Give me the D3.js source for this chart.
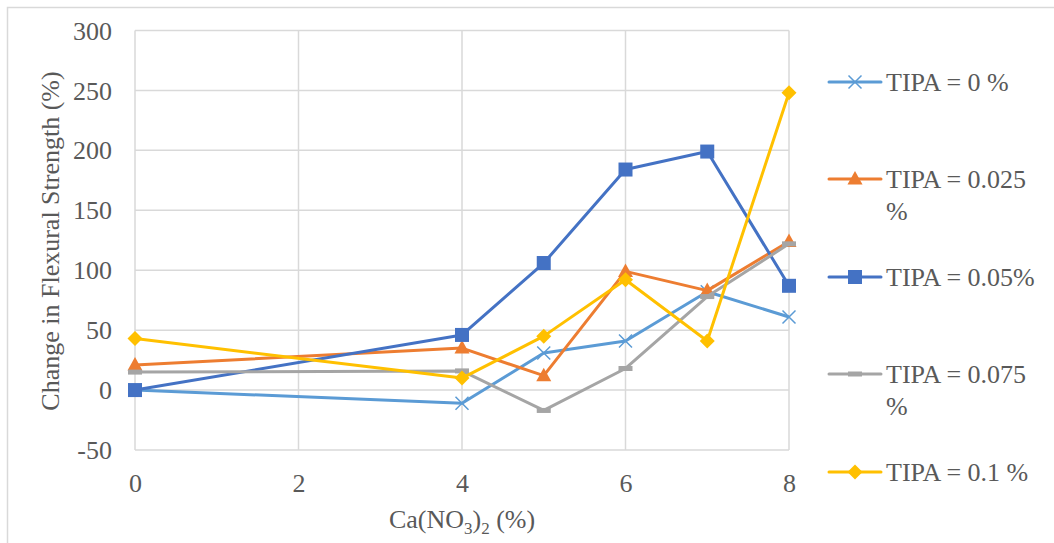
<!DOCTYPE html>
<html>
<head>
<meta charset="utf-8">
<script src="https://cdn.jsdelivr.net/npm/d3@7/dist/d3.min.js"></script>
<style>
  body { margin: 0; background: #fff; }
  svg { display: block; }
  svg text { font-family: "Liberation Serif", "Times New Roman", serif; }
</style>
</head>
<body>
<svg id="chart" width="1054" height="543"></svg>
<script>
// Ca(NO3)2 dosage (%) on the x axis
const dosage = [0, 4, 5, 6, 7, 8];

// Change in flexural strength (%) for each TIPA dosage
const tipa0    = [0, -11, 31, 41, 82, 61];
const tipa0025 = [21, 35, 12, 99, 83, 124];
const tipa005  = [0, 46, 106, 184, 199, 87];
const tipa0075 = [15, 16, -17, 18, 78, 122];
const tipa01   = [43, 10, 45, 92, 41, 248];

const seriesNames = ["TIPA = 0 %", "TIPA = 0.025 %", "TIPA = 0.05%", "TIPA = 0.075 %", "TIPA = 0.1 %"];
const xTicks = [0, 2, 4, 6, 8];
const yTicks = [-50, 0, 50, 100, 150, 200, 250, 300];

const series = [
  { name: seriesNames[0], values: tipa0,    color: "#5B9BD5", marker: "cross" },
  { name: seriesNames[1], values: tipa0025, color: "#ED7D31", marker: "triangle" },
  { name: seriesNames[2], values: tipa005,  color: "#4472C4", marker: "square" },
  { name: seriesNames[3], values: tipa0075, color: "#A5A5A5", marker: "dash" },
  { name: seriesNames[4], values: tipa01,   color: "#FFC000", marker: "diamond" }
];

const svg = d3.select("#chart");
const textColor = "#595959";
const gridColor = "#D9D9D9";
const fontSize = "26px";

// Chart frame
svg.append("rect")
  .attr("x", 7.5).attr("y", 7.5).attr("width", 1060).attr("height", 560)
  .attr("fill", "none").attr("stroke", gridColor).attr("stroke-width", 1.5);

const plot = { left: 135, right: 789, top: 30.5, bottom: 450 };
const x = d3.scaleLinear().domain([0, 8]).range([plot.left, plot.right]);
const y = d3.scaleLinear().domain([-50, 300]).range([plot.bottom, plot.top]);

// Gridlines
const grid = svg.append("g");
grid.selectAll("line.h").data(yTicks).enter().append("line")
  .attr("x1", plot.left).attr("x2", plot.right)
  .attr("y1", d => y(d)).attr("y2", d => y(d))
  .attr("stroke", gridColor).attr("stroke-width", 1.5);
grid.selectAll("line.v").data(xTicks).enter().append("line")
  .attr("y1", plot.top).attr("y2", plot.bottom)
  .attr("x1", d => x(d)).attr("x2", d => x(d))
  .attr("stroke", gridColor).attr("stroke-width", 1.5);

// Axes (labels only, lines come from the grid); plain hyphen for negatives
const plain = d => String(d);
const yAxis = svg.append("g").attr("transform", `translate(${plot.left - 23},0)`)
  .call(d3.axisLeft(y).tickValues(yTicks).tickFormat(plain).tickSize(0).tickPadding(0));
yAxis.select(".domain").remove();
yAxis.attr("font-family", null).attr("font-size", null);
yAxis.selectAll("text").attr("fill", textColor).style("font-size", fontSize)
  .attr("dy", "0.33em");

const xAxis = svg.append("g").attr("transform", `translate(0,${plot.bottom + 42})`)
  .call(d3.axisBottom(x).tickValues(xTicks).tickFormat(plain).tickSize(0).tickPadding(0));
xAxis.select(".domain").remove();
xAxis.attr("font-family", null).attr("font-size", null);
xAxis.selectAll("text").attr("fill", textColor).style("font-size", fontSize)
  .attr("dy", 0);

// Axis titles
svg.append("text")
  .attr("transform", `translate(59,${241}) rotate(-90)`)
  .attr("text-anchor", "middle").attr("fill", textColor).style("font-size", fontSize)
  .text("Change in Flexural Strength (%)");

const xt = svg.append("text")
  .attr("x", x(4)).attr("y", 528).attr("text-anchor", "middle")
  .attr("fill", textColor).style("font-size", fontSize);
xt.append("tspan").text("Ca(NO");
xt.append("tspan").attr("dy", 6).style("font-size", "17px").text("3");
xt.append("tspan").attr("dy", -6).text(")");
xt.append("tspan").attr("dy", 6).style("font-size", "17px").text("2");
xt.append("tspan").attr("dy", -6).text(" (%)");

// Marker drawing
function drawMarker(g, type, color, cx, cy) {
  if (type === "cross") {
    const s = 6.5;
    g.append("path")
      .attr("d", `M${cx - s},${cy - s}L${cx + s},${cy + s}M${cx - s},${cy + s}L${cx + s},${cy - s}`)
      .attr("stroke", color).attr("stroke-width", 1.5).attr("fill", "none");
  } else if (type === "triangle") {
    g.append("path")
      .attr("d", `M${cx},${cy - 8}L${cx + 7.5},${cy + 5.5}L${cx - 7.5},${cy + 5.5}Z`)
      .attr("fill", color);
  } else if (type === "square") {
    g.append("rect").attr("x", cx - 7).attr("y", cy - 7).attr("width", 14).attr("height", 14)
      .attr("fill", color);
  } else if (type === "dash") {
    g.append("rect").attr("x", cx - 7).attr("y", cy - 2.5).attr("width", 14).attr("height", 5)
      .attr("fill", color);
  } else if (type === "diamond") {
    g.append("path")
      .attr("d", `M${cx},${cy - 7.5}L${cx + 7.5},${cy}L${cx},${cy + 7.5}L${cx - 7.5},${cy}Z`)
      .attr("fill", color);
  }
}

// Series lines and markers
const line = d3.line().x(d => x(d[0])).y(d => y(d[1]));
series.forEach(s => {
  const pts = dosage.map((d, i) => [d, s.values[i]]);
  const g = svg.append("g");
  g.append("path").datum(pts).attr("d", line)
    .attr("fill", "none").attr("stroke", s.color).attr("stroke-width", 3)
    .attr("stroke-linejoin", "round");
  pts.forEach(p => drawMarker(g, s.marker, s.color, x(p[0]), y(p[1])));
});

// Legend
const legendY = [82, 179, 277, 374, 472];
series.forEach((s, i) => {
  const g = svg.append("g");
  const ly = legendY[i];
  g.append("line").attr("x1", 829).attr("x2", 881).attr("y1", ly).attr("y2", ly)
    .attr("stroke", s.color).attr("stroke-width", 3).attr("stroke-linecap", "round");
  drawMarker(g, s.marker, s.color, 855, ly);
  const words = s.name.split(" ");
  const t = g.append("text").attr("x", 886).attr("y", ly + 9)
    .attr("fill", textColor).style("font-size", fontSize);
  if (s.name === "TIPA = 0.025 %" || s.name === "TIPA = 0.075 %") {
    t.append("tspan").text(words.slice(0, 3).join(" "));
    t.append("tspan").attr("x", 886).attr("dy", 32).text(words[3]);
  } else {
    t.text(s.name);
  }
});
</script>
</body>
</html>
